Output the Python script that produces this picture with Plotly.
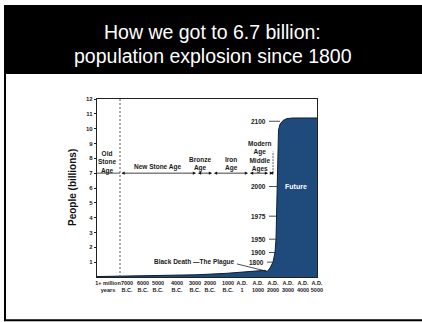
import plotly.graph_objects as go

# ---- data -------------------------------------------------------------
# Horizontal positions are on a custom, non-linear era scale (axis units).
ERA_TICK_POS = [1.1, 3.0, 4.6, 6.1, 8.0, 9.8, 11.3, 13.1, 14.5, 16.1, 17.6, 19.1, 20.6, 21.99]
ERA_TICK_TEXT = ["1+ million<br>years", "7000<br>B.C.", "6000<br>B.C.", "5000<br>B.C.",
                 "4000<br>B.C.", "3000<br>B.C.", "2000<br>B.C.", "1000<br>B.C.",
                 "A.D.<br>1", "A.D.<br>1000", "A.D.<br>2000", "A.D.<br>3000",
                 "A.D.<br>4000", "A.D.<br>5000"]

# world population (billions) along the era scale
POP_X = [0, 2.3, 5, 8, 10, 13, 15.3, 16.5, 16.8, 17.0, 17.3, 17.6, 17.8, 17.9,
         17.95, 18.0, 18.05, 18.15, 18.3, 18.6, 19.0, 19.6, 22]
POP_Y = [0.03, 0.05, 0.08, 0.12, 0.15, 0.25, 0.35, 0.45, 0.45, 0.35, 0.6, 1.0, 1.65, 2.55,
         4.1, 6.1, 9.0, 9.9, 10.3, 10.55, 10.68, 10.72, 10.72]

YEAR_LABELS = ["1800", "1900", "1950", "1975", "2000", "2100"]
YEAR_POP = [1.0, 1.65, 2.55, 4.1, 6.1, 10.5]
YEAR_X = [17.6, 17.8, 17.9, 17.95, 18.0, 18.3]

# historical periods: (label, start, end, label x, label y)
PERIODS = [("New Stone Age", 2.3, 9.9, 6.0, 7.4),
           ("Bronze<br>Age", 9.95, 11.5, 10.3, 7.65),
           ("Iron<br>Age", 11.55, 15.1, 13.4, 7.65),
           ("Middle", 15.15, 17.1, None, None),
           ("Modern", 17.15, 17.6, None, None)]
PERIOD_LEVEL = 7.0

Y_TICKS = list(range(1, 13))

BLUE = "#1e4a7c"
INK = "#1a1a1a"
FONT = "Arial, Liberation Sans, sans-serif"

# ---- figure -----------------------------------------------------------
fig = go.Figure()

fig.add_trace(go.Scatter(
    x=POP_X, y=POP_Y, mode="lines", fill="tozeroy",
    line=dict(color="#0b1f3a", width=1), fillcolor=BLUE,
    hoverinfo="skip", showlegend=False))

shapes = []
annotations = []


def small(text, x, y, size=6.5, anchor="center", color=INK):
    annotations.append(dict(xref="x", yref="y", x=x, y=y, text="<b>%s</b>" % text,
                            showarrow=False, xanchor=anchor, yanchor="middle",
                            font=dict(family=FONT, size=size, color=color)))


# header band and slide frame
shapes.append(dict(type="rect", xref="paper", yref="paper",
                   x0=-0.4227, x1=1.48, y0=1.1404, y1=1.528,
                   fillcolor="black", line=dict(width=0), layer="below"))
shapes.append(dict(type="line", xref="paper", yref="paper",
                   x0=-0.4182, x1=-0.4182, y0=1.1404, y1=-0.2427,
                   line=dict(color="black", width=2)))
shapes.append(dict(type="line", xref="paper", yref="paper",
                   x0=-0.4227, x1=1.48, y0=-0.2427, y1=-0.2427,
                   line=dict(color="black", width=2)))

for i, line in enumerate(["How we got to 6.7 billion:", "population explosion since 1800"]):
    annotations.append(dict(xref="paper", yref="paper", x=0.527, y=[1.3764, 1.2416][i],
                            text=line, showarrow=False, xanchor="center", yanchor="middle",
                            font=dict(family=FONT, size=19.5, color="white")))

# Old Stone Age boundary
shapes.append(dict(type="line", xref="x", yref="y", x0=2.3, x1=2.3, y0=0, y1=12,
                   line=dict(color="#555", width=1, dash="2px,2px")))
# Modern Age boundary
shapes.append(dict(type="line", xref="x", yref="y", x0=17.6, x1=17.6, y0=PERIOD_LEVEL, y1=8.45,
                   line=dict(color="#333", width=0.8, dash="2px,1px")))
# Old Stone Age span (no arrowheads)
shapes.append(dict(type="line", xref="x", yref="y", x0=0, x1=2.3,
                   y0=PERIOD_LEVEL, y1=PERIOD_LEVEL, line=dict(color="#222", width=0.8)))

for name, x0, x1, lx, ly in PERIODS:
    annotations.append(dict(xref="x", yref="y", axref="x", ayref="y",
                            x=x1, y=PERIOD_LEVEL, ax=x0, ay=PERIOD_LEVEL, text="",
                            showarrow=True, arrowhead=2, arrowside="end+start",
                            arrowsize=0.8, arrowwidth=0.8, arrowcolor="#111"))
    if lx is not None:
        small(name, lx, ly)

small("Old<br>Stone<br>Age", 1.0, 7.75)
small("Modern<br>Age<br>Middle<br>Ages", 16.3, 8.15)

# year markers along the curve
for lab, yv, xv in zip(YEAR_LABELS, YEAR_POP, YEAR_X):
    right = 16.9 if lab == "1800" else 17.1
    small(lab, right, yv, anchor="right")
    shapes.append(dict(type="line", xref="x", yref="y", x0=right + 0.1, x1=xv,
                       y0=yv, y1=yv, line=dict(color="#222", width=0.8)))

# Black Death note
small("Black Death —The Plague", 9.75, 1.0)
shapes.append(dict(type="line", xref="x", yref="y", x0=14.0, y0=0.88, x1=17.0, y1=0.38,
                   line=dict(color="#222", width=0.8)))

small("Future", 19.9, 6.1, size=7, color="white")

# y-axis title
annotations.append(dict(xref="paper", yref="paper", x=0, y=0.5, xshift=-25,
                        text="<b>People (billions)</b>", textangle=-90, showarrow=False,
                        xanchor="center", yanchor="middle",
                        font=dict(family=FONT, size=10, color="#111")))

fig.update_layout(
    width=422, height=322,
    margin=dict(l=97, r=105, t=99, b=45),
    paper_bgcolor="white", plot_bgcolor="white",
    shapes=shapes, annotations=annotations,
    xaxis=dict(range=[0, 22], tickvals=ERA_TICK_POS,
               ticktext=["<b>%s</b>" % t for t in ERA_TICK_TEXT],
               tickangle=0, showgrid=False, zeroline=False, showline=True,
               linecolor="#222", linewidth=1.2, mirror=True, ticks="",
               tickfont=dict(family=FONT, size=5.5, color=INK)),
    yaxis=dict(range=[0, 12], tickvals=Y_TICKS,
               ticktext=["<b>%d</b>" % v for v in Y_TICKS],
               showgrid=False, zeroline=False,
               showline=True, linecolor="#222", linewidth=1.2, mirror=True,
               ticks="outside", ticklen=2, tickcolor="#222",
               tickfont=dict(family=FONT, size=6, color=INK)),
)

fig.write_html("out.html")
